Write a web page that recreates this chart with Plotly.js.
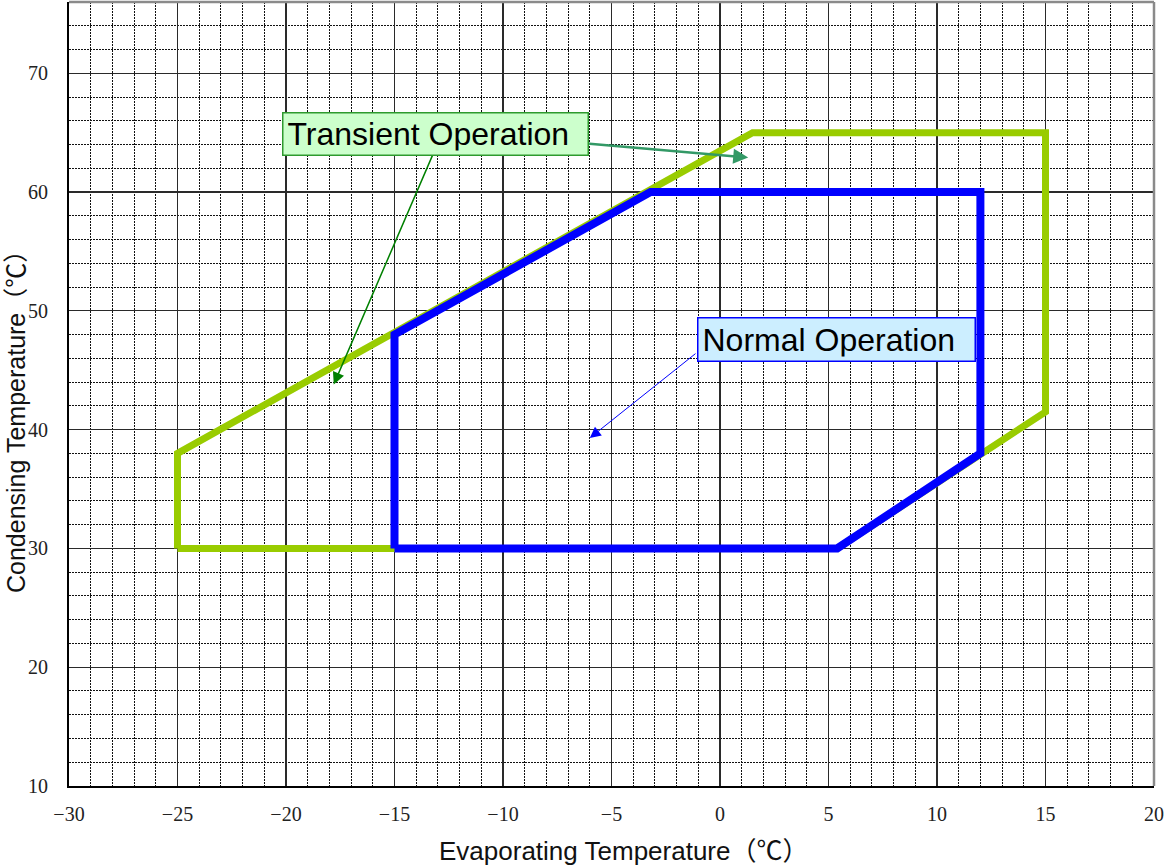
<!DOCTYPE html>
<html>
<head>
<meta charset="utf-8">
<script src="https://cdn.plot.ly/plotly-3.0.1.min.js"></script>
<style>
  html, body { margin: 0; padding: 0; background: #fff; }
  #chart { width: 1165px; height: 865px; }
</style>
</head>
<body>
<div id="chart"></div>
<script>
// Operating envelope outlines (evaporating °C, condensing °C)
const transientEvap = [-25, -25, 1.5, 15, 15, 5.4, -25];
const transientCond = [30, 38, 65, 65, 41.5, 30, 30];

const normalEvap = [-15, -15, -3.2, 12, 12, 5.4, -15];
const normalCond = [30, 48, 60, 60, 38, 30, 30];

// Label boxes and their pointer arrows: [tailX, tailY, headX, headY]
const transientLabel = 'Transient Operation';
const normalLabel = 'Normal Operation';
const transientArrowA = [-8.06, 64.4, 1.3, 62.9];
const transientArrowB = [-13.2, 63.3, -17.8, 43.8];
const normalArrow = [-1.06, 46.5, -6.0, 39.3];

const xTitle = 'Evaporating Temperature（℃）';
const yTitle = 'Condensing Temperature（℃）';

const sans = 'Liberation Sans, Arial, Noto Sans CJK SC, sans-serif';
const serif = 'Liberation Serif, Times New Roman, serif';
const fineDots = '2px,1px';

const traces = [
  {
    x: transientEvap, y: transientCond, type: 'scatter', mode: 'lines',
    line: { color: '#99cc00', width: 7, shape: 'linear' },
    hoverinfo: 'skip'
  },
  {
    x: normalEvap, y: normalCond, type: 'scatter', mode: 'lines',
    line: { color: '#0000ff', width: 8, shape: 'linear' },
    hoverinfo: 'skip'
  }
];

function arrow(seg, color, width, size) {
  return {
    x: seg[2], y: seg[3], xref: 'x', yref: 'y',
    ax: seg[0], ay: seg[1], axref: 'x', ayref: 'y',
    text: '', showarrow: true, arrowhead: 2, arrowsize: size,
    arrowwidth: width, arrowcolor: color, standoff: 0, startstandoff: 0
  };
}

const layout = {
  width: 1165, height: 865,
  margin: { l: 69, r: 11, t: 2, b: 79 },
  paper_bgcolor: '#ffffff', plot_bgcolor: '#ffffff',
  showlegend: false,
  xaxis: {
    range: [-30, 20], dtick: 5, tick0: 0,
    showgrid: true, gridcolor: '#2a2a2a', gridwidth: 1.2,
    minor: { dtick: 1, showgrid: true, gridcolor: '#111', gridwidth: 1, griddash: fineDots },
    showline: true, linecolor: '#000', linewidth: 2,
    zeroline: false, ticks: '', ticklabelstandoff: 9,
    tickfont: { family: serif, size: 20, color: '#222' }
  },
  yaxis: {
    range: [10, 76], dtick: 10, tick0: 0,
    showgrid: true, gridcolor: '#2a2a2a', gridwidth: 1.2,
    minor: { dtick: 2, showgrid: true, gridcolor: '#111', gridwidth: 1, griddash: fineDots },
    showline: true, linecolor: '#000', linewidth: 2,
    zeroline: false, ticks: '', ticklabelstandoff: 15,
    tickfont: { family: serif, size: 20, color: '#222' }
  },
  shapes: [
    { type: 'line', xref: 'paper', yref: 'paper', x0: 0, x1: 1, y0: 1, y1: 1,
      line: { color: '#8a8a8a', width: 2.5 } },
    { type: 'line', xref: 'paper', yref: 'paper', x0: 1, x1: 1, y0: 0, y1: 1,
      line: { color: '#8a8a8a', width: 2.5 } }
  ],
  annotations: [
    arrow(transientArrowA, '#339966', 2.5, 1.2),
    arrow(transientArrowB, '#008000', 1.5, 1.6),
    arrow(normalArrow, '#0000ff', 1, 2.2),
    {
      x: -20.2, y: 66.7, xref: 'x', yref: 'y', xanchor: 'left', yanchor: 'top',
      text: transientLabel, showarrow: false, align: 'left',
      width: 296, height: 33,
      font: { family: sans, size: 32, color: '#000' },
      bgcolor: '#ccffcc', bordercolor: '#2e9a2e', borderwidth: 1.5, borderpad: 4
    },
    {
      x: -1.05, y: 49.45, xref: 'x', yref: 'y', xanchor: 'left', yanchor: 'top',
      text: normalLabel, showarrow: false, align: 'left',
      width: 268, height: 34,
      font: { family: sans, size: 32, color: '#000' },
      bgcolor: '#cceeff', bordercolor: '#0000ff', borderwidth: 1.5, borderpad: 4
    },
    // axis titles
    {
      x: 0.5115, y: -0.083, xref: 'paper', yref: 'paper',
      xanchor: 'center', yanchor: 'middle', showarrow: false,
      text: xTitle, font: { family: sans, size: 26, color: '#111' }
    },
    {
      x: -0.0488, y: 0.472, xref: 'paper', yref: 'paper',
      xanchor: 'center', yanchor: 'middle', showarrow: false, textangle: -90,
      text: yTitle, font: { family: sans, size: 25, color: '#111' }, borderpad: 0
    }
  ]
};

Plotly.newPlot('chart', traces, layout, { displayModeBar: false, staticPlot: true });
</script>
</body>
</html>
